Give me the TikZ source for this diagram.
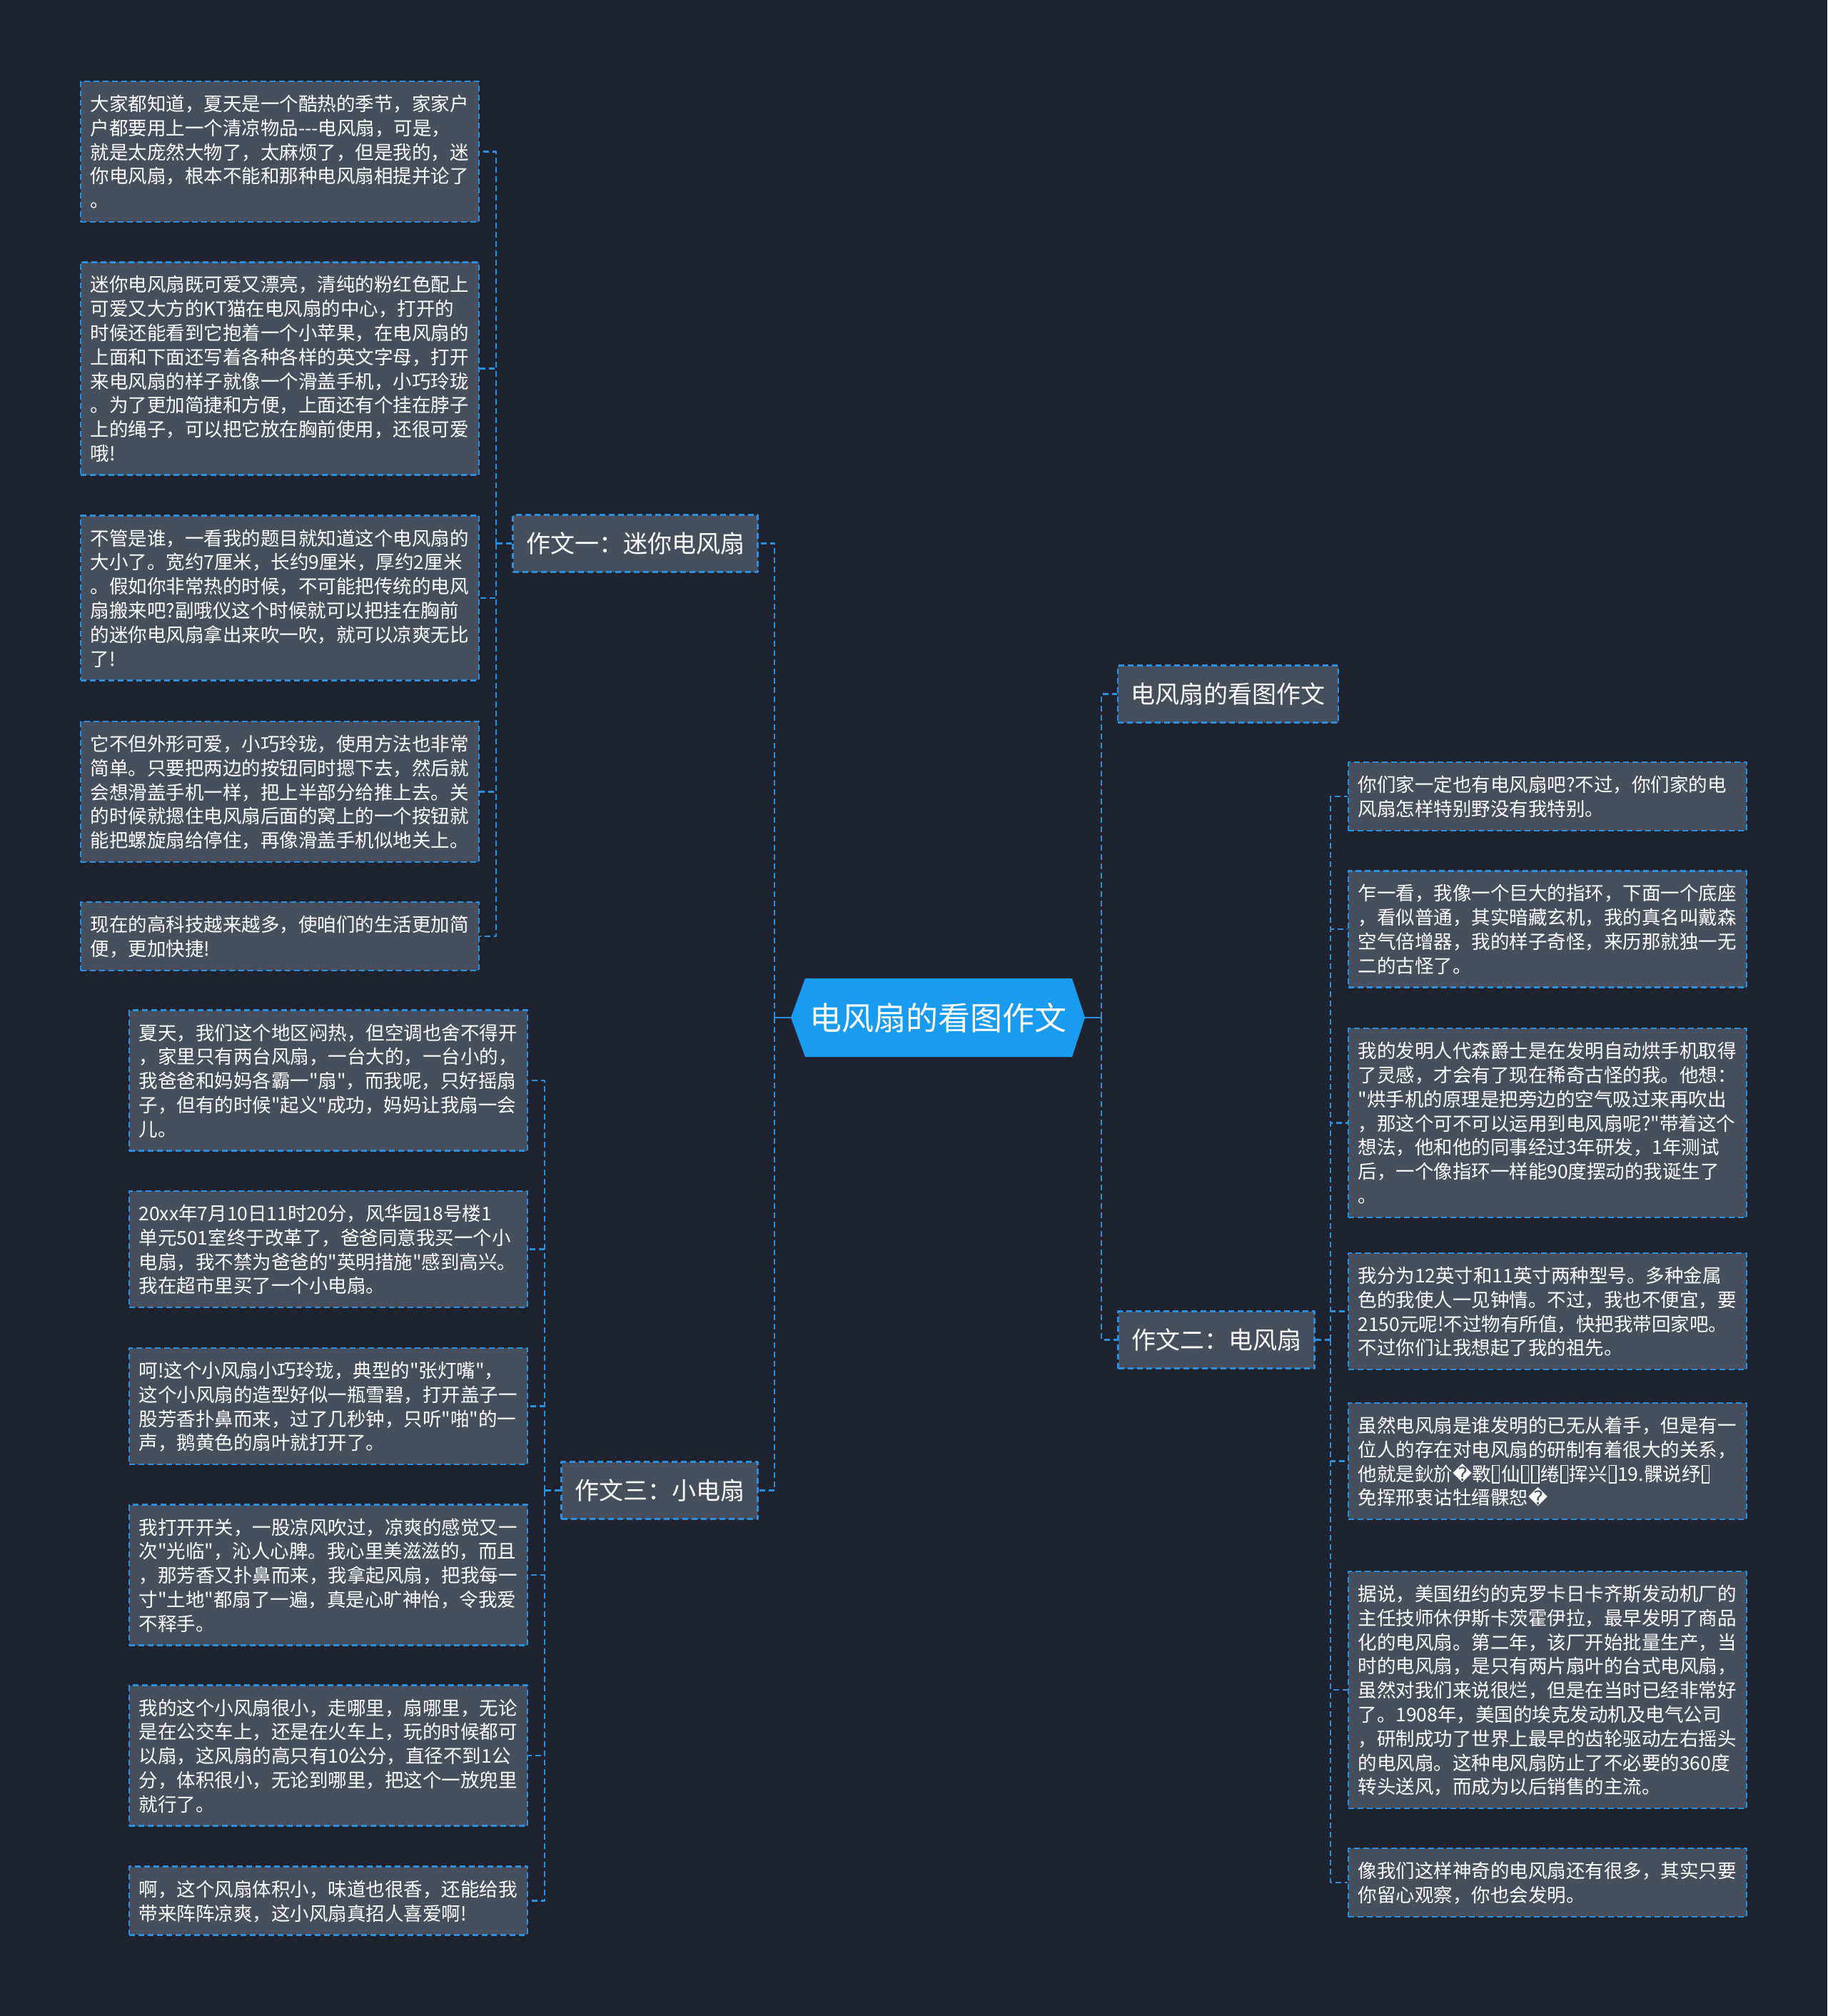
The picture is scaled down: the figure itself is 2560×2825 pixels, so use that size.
\documentclass[tikz,border=0pt]{standalone}
\usepackage{fontspec}
\newfontfamily\cnfont{Noto Sans CJK SC}
\newfontfamily\symfont{DejaVu Sans}
\newcommand\tofu{\kern0.06em\raisebox{-0.08em}{\setlength\fboxsep{0pt}\setlength\fboxrule{0.06em}\fbox{\rule{0pt}{0.86em}\hspace{0.3em}}}\kern0.06em}
\newcommand\qmark{{\symfont �}}
\definecolor{bgcol}{RGB}{31,35,48}
\definecolor{boxgrey}{RGB}{71,78,94}
\definecolor{linkblue}{RGB}{40,144,222}
\definecolor{rootblue}{RGB}{25,155,240}
\begin{document}
\begin{tikzpicture}[x=1pt,y=-1pt,line join=round,
	link/.style={draw=linkblue,line width=2.5pt},
	dlink/.style={link,dash pattern=on 8pt off 5pt},
	leaf/.style={dlink,fill=boxgrey,text=white,align=left,text width=531pt,inner xsep=13.5pt,inner ysep=14pt,
		font=\cnfont\fontsize{26.5}{33.8}\selectfont,
		execute at begin node={\rule{0pt}{27.5pt}},execute at end node={\rule[-6.3pt]{0pt}{6.3pt}}},
	branch/.style={dlink,fill=boxgrey,text=white,inner xsep=18.5pt,inner ysep=0pt,minimum height=80pt,
		font=\cnfont\fontsize{34}{40}\selectfont},
	roottext/.style={text=white,inner sep=0pt,minimum width=412pt,minimum height=110pt,
		font=\cnfont\fontsize{45}{54}\selectfont}]
	\useasboundingbox (0,0) rectangle (2560,2825);
	\fill[bgcol] (0,0) rectangle (2560,2825);
	% centre topic
	\fill[rootblue] (1108,1426) -- (1128,1371) -- (1502,1371) -- (1520,1426) -- (1502,1481) -- (1128,1481) -- cycle;
	\node[roottext] (root) at (1314,1426) {电风扇的看图作文};
	% main branches
	\node[branch] (b1) at (890,761.5) {作文一：迷你电风扇};
	\node[branch] (b3) at (924,2088.5) {作文三：小电扇};
	\node[branch] (b0) at (1720.5,972.5) {电风扇的看图作文};
	\node[branch] (b2) at (1704,1877.5) {作文二：电风扇};
	% left column
	\node[leaf] (L1) at (392,212.5) {大家都知道，夏天是一个酷热的季节，家家户\\户都要用上一个清凉物品-{}-{}-电风扇，可是，\\就是太庞然大物了，太麻烦了，但是我的，迷\\你电风扇，根本不能和那种电风扇相提并论了\\。};
	\node[leaf] (L2) at (392,516.5) {迷你电风扇既可爱又漂亮，清纯的粉红色配上\\可爱又大方的KT猫在电风扇的中心，打开的\\时候还能看到它抱着一个小苹果，在电风扇的\\上面和下面还写着各种各样的英文字母，打开\\来电风扇的样子就像一个滑盖手机，小巧玲珑\\。为了更加简捷和方便，上面还有个挂在脖子\\上的绳子，可以把它放在胸前使用，还很可爱\\哦!};
	\node[leaf] (L3) at (392,838) {不管是谁，一看我的题目就知道这个电风扇的\\大小了。宽约7厘米，长约9厘米，厚约2厘米\\。假如你非常热的时候，不可能把传统的电风\\扇搬来吧?副哦仪这个时候就可以把挂在胸前\\的迷你电风扇拿出来吹一吹，就可以凉爽无比\\了!};
	\node[leaf] (L4) at (392,1109.5) {它不但外形可爱，小巧玲珑，使用方法也非常\\简单。只要把两边的按钮同时摁下去，然后就\\会想滑盖手机一样，把上半部分给推上去。关\\的时候就摁住电风扇后面的窝上的一个按钮就\\能把螺旋扇给停住，再像滑盖手机似地关上。};
	\node[leaf] (L5) at (392,1312) {现在的高科技越来越多，使咱们的生活更加简\\便，更加快捷!};
	% middle column
	\node[leaf] (M1) at (460,1514) {夏天，我们这个地区闷热，但空调也舍不得开\\，家里只有两台风扇，一台大的，一台小的，\\我爸爸和妈妈各霸一"扇"，而我呢，只好摇扇\\子，但有的时候"起义"成功，妈妈让我扇一会\\儿。};
	\node[leaf] (M2) at (460,1750.5) {20xx年7月10日11时20分，风华园18号楼1\\单元501室终于改革了，爸爸同意我买一个小\\电扇，我不禁为爸爸的"英明措施"感到高兴。\\我在超市里买了一个小电扇。};
	\node[leaf] (M3) at (460,1970.5) {呵!这个小风扇小巧玲珑，典型的"张灯嘴"，\\这个小风扇的造型好似一瓶雪碧，打开盖子一\\股芳香扑鼻而来，过了几秒钟，只听"啪"的一\\声，鹅黄色的扇叶就打开了。};
	\node[leaf] (M4) at (460,2207) {我打开开关，一股凉风吹过，凉爽的感觉又一\\次"光临"，沁人心脾。我心里美滋滋的，而且\\，那芳香又扑鼻而来，我拿起风扇，把我每一\\寸"土地"都扇了一遍，真是心旷神怡，令我爱\\不释手。};
	\node[leaf] (M5) at (460,2460) {我的这个小风扇很小，走哪里，扇哪里，无论\\是在公交车上，还是在火车上，玩的时候都可\\以扇，这风扇的高只有10公分，直径不到1公\\分，体积很小，无论到哪里，把这个一放兜里\\就行了。};
	\node[leaf] (M6) at (460,2663.5) {啊，这个风扇体积小，味道也很香，还能给我\\带来阵阵凉爽，这小风扇真招人喜爱啊!};
	% right column
	\node[leaf] (R1) at (2168,1116) {你们家一定也有电风扇吧?不过，你们家的电\\风扇怎样特别野没有我特别。};
	\node[leaf] (R2) at (2168,1302) {乍一看，我像一个巨大的指环，下面一个底座\\，看似普通，其实暗藏玄机，我的真名叫戴森\\空气倍增器，我的样子奇怪，来历那就独一无\\二的古怪了。};
	\node[leaf] (R3) at (2168,1573.5) {我的发明人代森爵士是在发明自动烘手机取得\\了灵感，才会有了现在稀奇古怪的我。他想：\\"烘手机的原理是把旁边的空气吸过来再吹出\\，那这个可不可以运用到电风扇呢?"带着这个\\想法，他和他的同事经过3年研发，1年测试\\后，一个像指环一样能90度摆动的我诞生了\\。};
	\node[leaf] (R4) at (2168,1837.5) {我分为12英寸和11英寸两种型号。多种金属\\色的我使人一见钟情。不过，我也不便宜，要\\2150元呢!不过物有所值，快把我带回家吧。\\不过你们让我想起了我的祖先。};
	\node[leaf] (R5) at (2168,2047.5) {虽然电风扇是谁发明的已无从着手，但是有一\\位人的存在对电风扇的研制有着很大的关系，\\他就是鈥斺\qmark 斁\tofu 仙\tofu\tofu 绻\tofu 挥兴\tofu 19.髁说纾\tofu\\免挥邢衷诂牡缙髁恕\qmark};
	\node[leaf] (R6) at (2168,2368) {据说，美国纽约的克罗卡日卡齐斯发动机厂的\\主任技师休伊斯卡茨霍伊拉，最早发明了商品\\化的电风扇。第二年，该厂开始批量生产，当\\时的电风扇，是只有两片扇叶的台式电风扇，\\虽然对我们来说很烂，但是在当时已经非常好\\了。1908年，美国的埃克发动机及电气公司\\，研制成功了世界上最早的齿轮驱动左右摇头\\的电风扇。这种电风扇防止了不必要的360度\\转头送风，而成为以后销售的主流。};
	\node[leaf] (R7) at (2168,2638) {像我们这样神奇的电风扇还有很多，其实只要\\你留心观察，你也会发明。};
	% spines
	\coordinate (spc) at (1085,1426);
	\coordinate (spr) at (1543,1426);
	\coordinate (sp1) at (695,761.5);
	\coordinate (sp3) at (763,2088.5);
	\coordinate (sp2) at (1864,1877.5);
	% draw connectors
	\draw[link] (root.west) -- (spc);
	\draw[link] (root.east) -- (spr);
	\draw[dlink] (spc) |- (b1.east);
	\draw[dlink] (spc) |- (b3.east);
	\draw[dlink] (spr) |- (b0.west);
	\draw[dlink] (spr) |- (b2.west);
	\draw[dlink] (b1.west) -- (sp1);
	\foreach \n in {L1,L2,L3,L4,L5} \draw[dlink] (sp1) |- (\n.east);
	\draw[dlink] (b3.west) -- (sp3);
	\foreach \n in {M1,M2,M3,M4,M5,M6} \draw[dlink] (sp3) |- (\n.east);
	\draw[dlink] (b2.east) -- (sp2);
	\foreach \n in {R1,R2,R3,R4,R5,R6,R7} \draw[dlink] (sp2) |- (\n.west);
\end{tikzpicture}
\end{document}
